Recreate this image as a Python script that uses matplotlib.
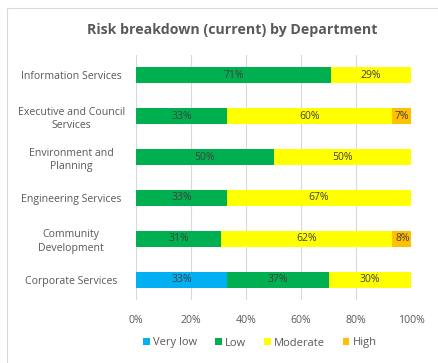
import matplotlib
matplotlib.use("Agg")
import matplotlib.pyplot as plt
from matplotlib.patches import Rectangle
import numpy as np

plt.rcParams['font.family'] = ['Open Sans', 'DejaVu Sans']

departments = [
    "Information Services",
    "Executive and Council\nServices",
    "Environment and\nPlanning",
    "Engineering Services",
    "Community\nDevelopment",
    "Corporate Services",
]
very_low = [0, 0, 0, 0, 0, 33]
low = [71, 33, 50, 33, 31, 37]
moderate = [29, 60, 50, 67, 62, 30]
high = [0, 7, 0, 0, 8, 0]

series = [
    ("Very low", very_low, "#00B0F0"),
    ("Low", low, "#00B050"),
    ("Moderate", moderate, "#FFFF00"),
    ("High", high, "#FFC000"),
]
xticks = [0, 20, 40, 60, 80, 100]

fig = plt.figure(figsize=(4.38, 3.63), dpi=100)
fig.patch.set_facecolor("white")
fig.add_artist(Rectangle((7 / 438, -0.01), 1.0, 1 - 8 / 363 + 0.01,
                         transform=fig.transFigure, fill=False,
                         edgecolor="#D9D9D9", linewidth=0.8))

ax = fig.add_axes([136 / 438, 1 - 300 / 363, 275 / 438, 245 / 363])
ypos = np.arange(len(departments))[::-1]
left = np.zeros(len(departments))
handles = []
for name, vals, color in series:
    vals = np.array(vals, dtype=float)
    bars = ax.barh(ypos, vals, left=left, height=0.39, color=color,
                   label=name, zorder=2)
    handles.append(bars)
    for y, l, v in zip(ypos, left, vals):
        if v > 0:
            ax.text(l + v / 2, y, f"{int(v)}%", ha="center", va="center",
                    fontsize=7.5, color="#404040", zorder=3)
    left += vals

ax.set_xlim(0, 100)
ax.set_ylim(-0.5, len(departments) - 0.5)
ax.set_xticks(xticks)
ax.set_xticklabels([f"{t}%" for t in xticks])
ax.set_yticks(ypos)
ax.set_yticklabels(departments, linespacing=1.3)
ax.xaxis.grid(True, color="#D9D9D9", linewidth=0.8, zorder=0)
ax.set_axisbelow(True)
for s in ax.spines.values():
    s.set_visible(False)
ax.tick_params(axis="both", length=0, labelsize=7.6, colors="#595959")
ax.tick_params(axis="x", pad=11)
ax.tick_params(axis="y", pad=0)
for lbl in ax.get_yticklabels():
    lbl.set_horizontalalignment("center")
    lbl.set_x(-0.236)

fig.text(232 / 438, 1 - 30 / 363, "Risk breakdown (current) by Department",
         ha="center", va="center", fontsize=10.2, fontweight="bold",
         color="#595959")

fig.legend(handles=handles, loc="center", bbox_to_anchor=(260 / 438, 1 - 343 / 363),
           ncol=4, frameon=False, fontsize=8, handlelength=0.6,
           handleheight=0.6, handletextpad=0.3, columnspacing=1.6,
           labelcolor="#595959")

fig.savefig("out.png", dpi=100, facecolor="white")
